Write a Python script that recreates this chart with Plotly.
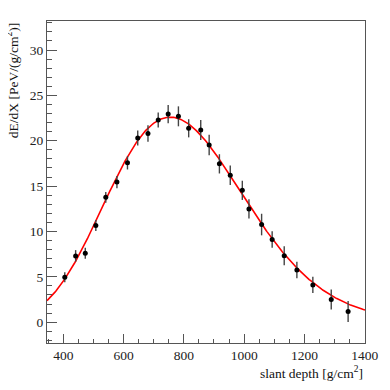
import numpy as np
import plotly.graph_objects as go

# data points (slant depth, dE/dX, error)
depth = [405, 441, 473, 508, 541, 578, 613, 647, 681, 715, 748, 782, 816,
         856, 884, 918, 954, 994, 1016, 1058, 1093, 1133, 1175, 1228, 1289, 1345]
dedx = [4.95, 7.3, 7.6, 10.65, 13.76, 15.44, 17.56, 20.3, 20.8, 22.28, 22.94, 22.69, 21.37,
        21.19, 19.54, 17.45, 16.2, 14.53, 12.48, 10.76, 9.11, 7.32, 5.75, 4.1, 2.49, 1.17]
dedx_err = [0.55, 0.64, 0.6, 0.6, 0.6, 0.68, 0.73, 0.82, 0.9, 0.82, 1.0, 1.1, 1.0,
            1.1, 1.13, 1.06, 1.08, 1.06, 1.06, 1.19, 0.9, 1.04, 0.9, 0.9, 1.1, 1.15]

# Gaisser-Hillas fit parameters (L, R form)
Nmax = 22.6
Xmax = 755.0
L_par = 228.0
R_par = 0.23

x_range = [346, 1401]
y_range = [-2.3, 33.2]

xf = np.linspace(x_range[0], x_range[1], 400)
t = xf - Xmax
yf = Nmax * np.power(1 + R_par * t / L_par, R_par ** -2) * np.exp(-t / (R_par * L_par))

font = "Liberation Serif, Times New Roman, serif"

fig = go.Figure()
fig.add_trace(go.Scatter(x=xf, y=yf, mode="lines",
                         line=dict(color="#ff0000", width=1.6), hoverinfo="skip"))
fig.add_trace(go.Scatter(x=depth, y=dedx, mode="markers",
                         marker=dict(color="black", size=5),
                         error_y=dict(type="data", array=dedx_err, color="#444444",
                                      thickness=1.4, width=0)))

axis_common = dict(showgrid=False, zeroline=False, showline=True, linecolor="#555555",
                   linewidth=1, mirror=True, ticks="inside", tickcolor="#555555",
                   tickfont=dict(family=font, size=13.5, color="#222222"))

fig.update_xaxes(range=x_range, tick0=400, dtick=200, ticklen=9,
                 minor=dict(ticks="inside", dtick=50, ticklen=4.5, tickcolor="#555555"),
                 **axis_common)
fig.update_yaxes(range=y_range, tick0=0, dtick=5, ticklen=10,
                 minor=dict(ticks="inside", dtick=1, ticklen=5, tickcolor="#555555"),
                 **axis_common)

fig.add_annotation(text="slant depth [g/cm<sup>2</sup>]", xref="paper", yref="paper",
                   x=1.0, y=-0.093, xanchor="right", yanchor="middle", showarrow=False,
                   font=dict(family=font, size=13.5, color="#111111"))
fig.add_annotation(text="dE/dX [PeV/(g/cm<sup>2</sup>)]", xref="paper", yref="paper",
                   x=-0.108, y=1.0, xanchor="center", yanchor="top", textangle=-90,
                   showarrow=False, font=dict(family=font, size=13.5, color="#111111"))

# page body adds an 8px offset; compensate so the plot frame sits at 47..370 x 19.5..343
fig.update_layout(width=382, height=382, showlegend=False,
                  paper_bgcolor="white", plot_bgcolor="white",
                  margin=dict(l=39, r=20, t=11.5, b=47))

fig.write_html("out.html")
